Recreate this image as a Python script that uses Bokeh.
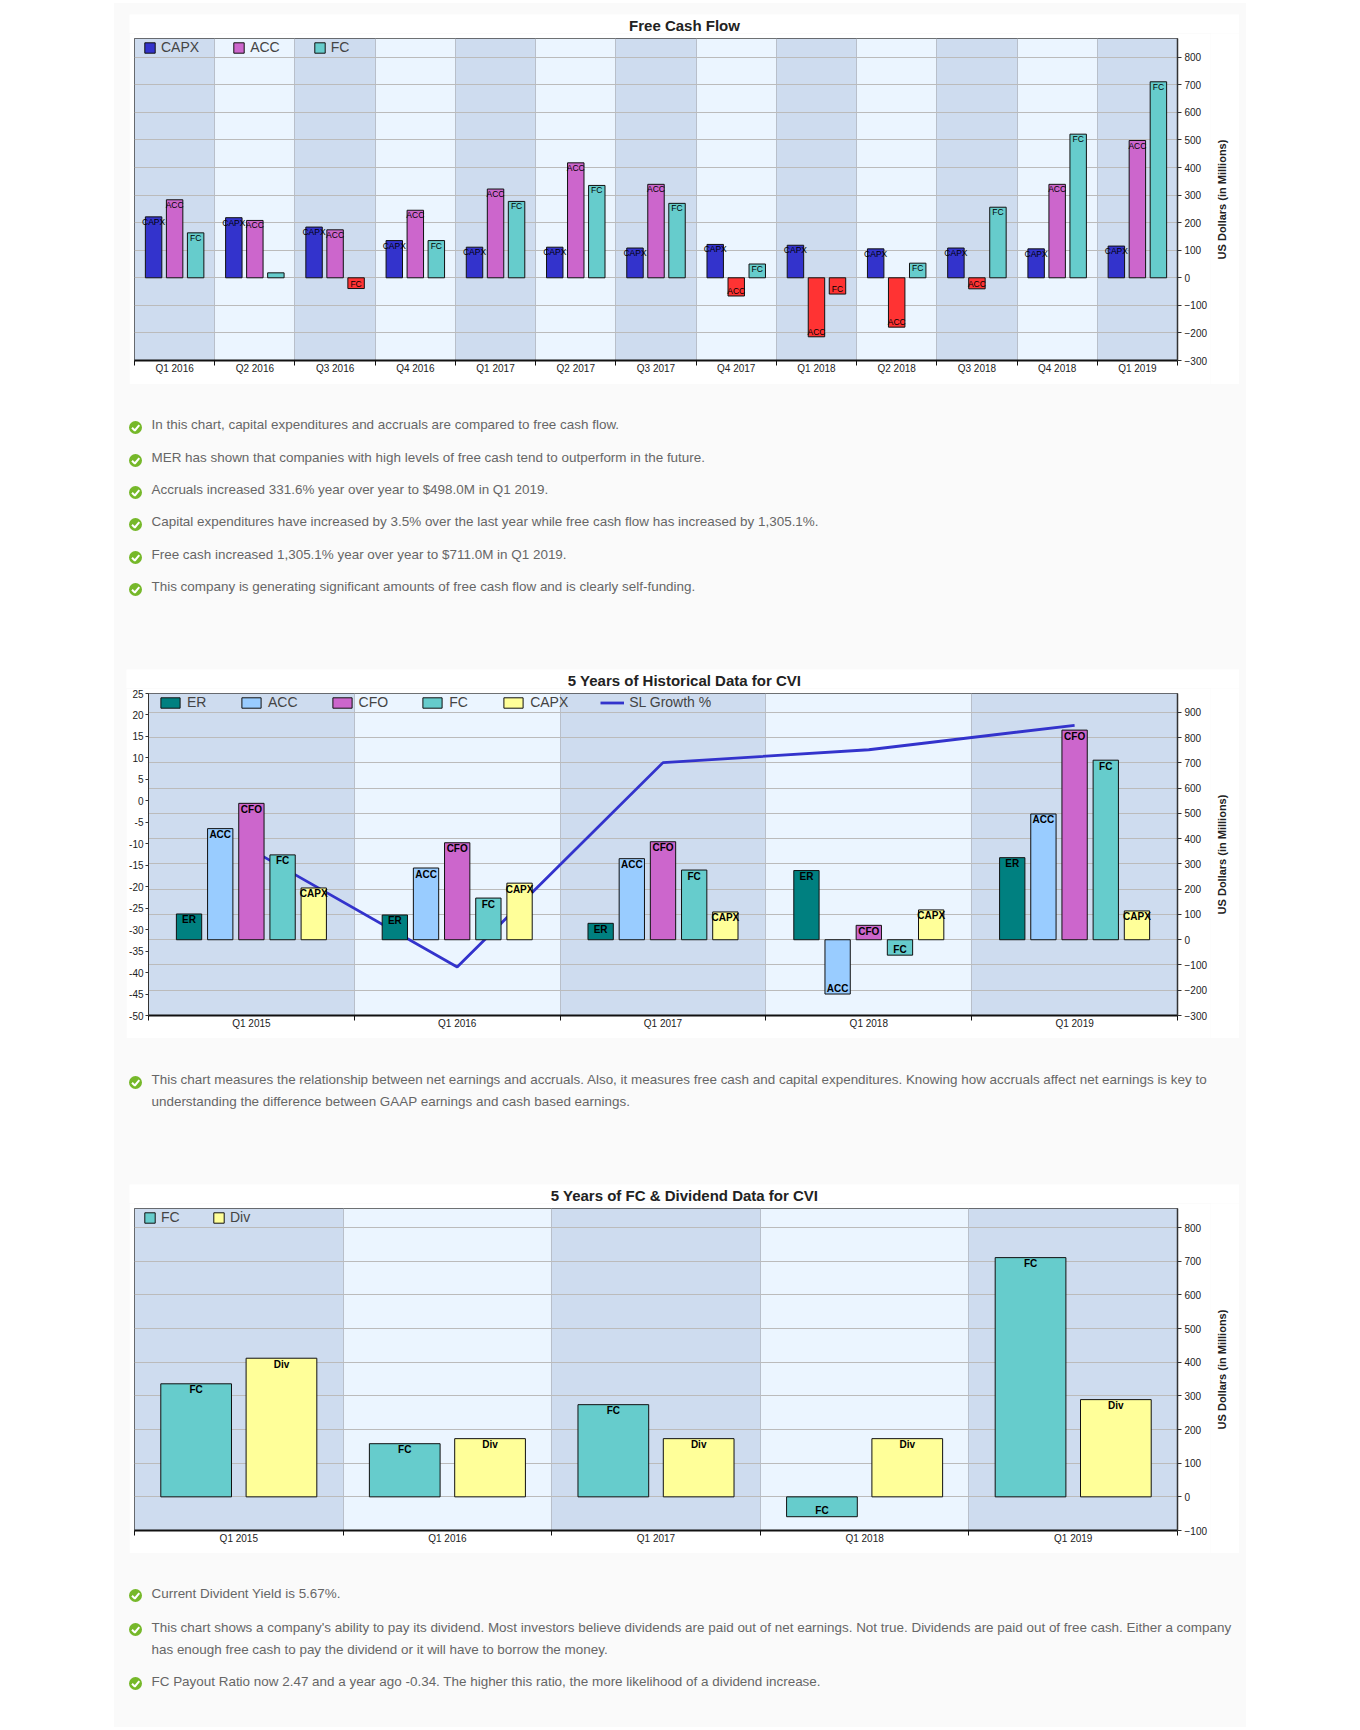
import math
from bokeh.plotting import figure, ColumnDataSource
from bokeh.embed import file_html
from bokeh.resources import INLINE
from bokeh.layouts import column, row
from bokeh.models import (Range1d, LinearAxis, FixedTicker, Legend, LegendItem)
from bokeh.core.properties import value

# ---------- data ----------
Q13 = ["Q1 2016", "Q2 2016", "Q3 2016", "Q4 2016", "Q1 2017", "Q2 2017", "Q3 2017",
       "Q4 2017", "Q1 2018", "Q2 2018", "Q3 2018", "Q4 2018", "Q1 2019"]
FCF_CAPX = [221, 218, 184, 135, 111, 111, 108, 121, 118, 105, 108, 105, 115]
FCF_ACC = [283, 208, 174, 245, 322, 417, 339, -66, -214, -179, -40, 339, 498]
FCF_FC = [163, 18, -39, 135, 277, 335, 270, 50, -59, 53, 256, 521, 711]

Y5 = ["Q1 2015", "Q1 2016", "Q1 2017", "Q1 2018", "Q1 2019"]
H_ER = [102, 98, 65, 274, 325]
H_ACC = [440, 284, 321, -215, 498]
H_CFO = [540, 384, 388, 57, 830]
H_FC = [336, 165, 276, -61, 711]
H_CAPX = [205, 224, 110, 118, 114]
H_SL = [-11.4, -38.7, 8.9, 11.9, 17.6]

D_FC = [336, 158, 274, -59, 711]
D_DIV = [412, 173, 173, 173, 289]

TICKS_1 = list(range(-300, 900, 100))
TICKS_2 = list(range(-300, 1000, 100))
TICKS_2_LEFT = list(range(-50, 30, 5))
TICKS_3 = list(range(-100, 900, 100))

TEXT_1 = [("In this chart, capital expenditures and accruals are compared to free cash flow.", 424, True),
          ("MER has shown that companies with high levels of free cash tend to outperform in the future.", 457, True),
          ("Accruals increased 331.6% year over year to $498.0M in Q1 2019.", 489, True),
          ("Capital expenditures have increased by 3.5% over the last year while free cash flow has increased by 1,305.1%.", 521, True),
          ("Free cash increased 1,305.1% year over year to $711.0M in Q1 2019.", 554, True),
          ("This company is generating significant amounts of free cash flow and is clearly self-funding.", 586, True)]
TEXT_2 = [("This chart measures the relationship between net earnings and accruals. Also, it measures free cash and capital expenditures. Knowing how accruals affect net earnings is key to", 1079, True),
          ("understanding the difference between GAAP earnings and cash based earnings.", 1101, False)]
TEXT_3 = [("Current Divident Yield is 5.67%.", 1593, True),
          ("This chart shows a company's ability to pay its dividend. Most investors believe dividends are paid out of net earnings. Not true. Dividends are paid out of free cash. Either a company", 1627, True),
          ("has enough free cash to pay the dividend or it will have to borrow the money.", 1649, False),
          ("FC Payout Ratio now 2.47 and a year ago -0.34. The higher this ratio, the more likelihood of a dividend increase.", 1681, True)]

# ---------- style ----------
BLUE, PURPLE, TEAL, RED = "#3333CC", "#CC66CC", "#66CCCC", "#FF3333"
DTEAL, SKY, YEL = "#008080", "#99CCFF", "#FFFF99"
BAND_D, BAND_L = "#CEDCEF", "#EBF5FF"
GRID = "#BBBBBB"
PANEL = "#FAFAFA"
FONT = "Liberation Sans"
PANEL_X, PANEL_Y = 114, 3
MIN_LABELLED = 30  # very short bars carry no label in the reference
Y_TITLE = "US Dollars (in Millions)"
STRIP_H = 19        # title strip above each chart
CHART_RIGHT = 1210  # chart canvas ends here, the rotated y title sits in a strip to its right


def strip(x0, x1, y0, y1, fill):
    """A plain canvas whose data coordinates are page pixels."""
    p = figure(width=x1 - x0, height=y1 - y0, output_backend="svg", toolbar_location=None,
               x_range=Range1d(x0, x1), y_range=Range1d(y1, y0), min_border=0,
               background_fill_color=fill, border_fill_color=fill, outline_line_color=None,
               frame_align=False)
    p.axis.visible = False
    p.grid.visible = False
    return p


def chart(cats, ylo, yhi, yticks, fig_box, frame_box):
    fx0, fy0, fx1, fy1 = fig_box
    x0, y0, x1, y1 = frame_box
    n = len(cats)
    p = figure(width=CHART_RIGHT - fx0, height=fy1 - fy0 - STRIP_H, output_backend="svg", toolbar_location=None,
               x_range=Range1d(0, n), y_range=Range1d(ylo, yhi), y_axis_location="right",
               min_border_left=x0 - fx0, min_border_right=CHART_RIGHT - x1,
               min_border_top=y0 - fy0 - STRIP_H, min_border_bottom=fy1 - y1,
               border_fill_color="white", background_fill_color=BAND_L, frame_align=False)
    p.outline_line_color = "#444444"
    p.outline_line_width = 1

    centers = [i + 0.5 for i in range(n)]
    bands = [BAND_D if i % 2 == 0 else BAND_L for i in range(n)]
    r = p.vbar(x=centers, width=1, top=yhi, bottom=ylo, fill_color=bands, line_color=None)
    r.level = "image"

    xa = p.xaxis[0]
    xa.ticker = FixedTicker(ticks=centers, minor_ticks=list(range(n + 1)))
    xa.major_label_overrides = {c: l for c, l in zip(centers, cats)}
    xa.major_tick_line_color = None
    xa.major_tick_in, xa.major_tick_out = 0, 0
    xa.minor_tick_in, xa.minor_tick_out = 0, 5
    xa.minor_tick_line_color = "#111111"
    xa.axis_line_color = "#111111"
    xa.axis_line_width = 2
    xa.major_label_text_font = FONT
    xa.major_label_text_font_size = "10px"
    xa.major_label_text_color = "#222222"
    xa.major_label_standoff = -3

    ya = p.yaxis[0]
    ya.ticker = FixedTicker(ticks=yticks)
    ya.minor_tick_line_color = None
    ya.major_tick_in, ya.major_tick_out = 0, 4
    ya.major_tick_line_color = "#333333"
    ya.axis_line_color = "#333333"
    ya.axis_line_width = 1.5
    ya.major_label_text_font = FONT
    ya.major_label_text_font_size = "10px"
    ya.major_label_text_color = "#222222"
    ya.major_label_standoff = 3

    p.ygrid.grid_line_color = GRID
    p.ygrid.grid_line_width = 1
    p.ygrid.level = "underlay"
    p.xgrid.ticker = FixedTicker(ticks=list(range(1, n)))
    p.xgrid.grid_line_color = "#B8BFCA"
    p.xgrid.grid_line_width = 1
    p.xgrid.level = "underlay"
    return p


def framed(p, title, fig_box, frame_box, title_y, top_margin=0):
    """Title strip above, rotated y title to the right of the chart canvas."""
    fx0, fy0, fx1, fy1 = fig_box
    x0, y0, x1, y1 = frame_box
    t = strip(fx0, fx1, fy0, fy0 + STRIP_H, "white")
    t.text(x=[684], y=[title_y], text=[title], text_align="center", text_baseline="middle",
           text_font=value(FONT), text_font_size="15px", text_font_style="bold", text_color="#222222")
    s = strip(CHART_RIGHT, fx1, fy0 + STRIP_H, fy1, "white")
    s.text(x=[1221], y=[(y0 + y1) / 2], text=[Y_TITLE], angle=[math.pi / 2], text_align="center",
           text_baseline="middle", text_font=value(FONT), text_font_size="11px", text_font_style="bold",
           text_color="#222222")
    return column(t, row(p, s, spacing=0), spacing=0, margin=(top_margin, 0, 0, fx0 - PANEL_X))


def bars(p, vals, names, fill, offset, width, neg=None, size="8.5px", style="normal", off_px=5):
    xs = [i + 0.5 + offset for i in range(len(vals))]
    fills = [neg if (neg and v < 0) else fill for v in vals]
    src = ColumnDataSource(dict(x=xs, top=vals, fill=fills,
                                name=[names if abs(v) >= MIN_LABELLED else "" for v in vals],
                                off=[off_px if v >= 0 else -off_px for v in vals]))
    r = p.vbar(x="x", top="top", bottom=0, width=width, fill_color="fill", line_color="#111111",
               line_width=1, source=src)
    p.text(x="x", y="top", text="name", y_offset="off", source=src, text_align="center",
           text_baseline="middle", text_font=value(FONT), text_font_size=size, text_font_style=style,
           text_color="#000000")
    return r


def add_legend(p, items, glyph_w, mx, my, spacing):
    leg = Legend(items=[LegendItem(label=n, renderers=[r]) for n, r in items],
                 orientation="horizontal", location=(mx, my), margin=0, padding=0,
                 spacing=spacing, label_standoff=5, glyph_width=glyph_w, glyph_height=13,
                 label_text_font=FONT, label_text_font_size="14px", label_text_color="#444444",
                 background_fill_alpha=0, border_line_color=None, label_height=16)
    p.add_layout(leg)


def text_panel(rows, y_top, y_bottom, bullet_dy):
    p = strip(PANEL_X, PANEL_X + 1132, y_top, y_bottom, PANEL)
    p.text(x=[151] * len(rows), y=[r[1] for r in rows], text=[r[0] for r in rows], text_baseline="middle",
           text_font=value(FONT), text_font_size="13.45px", text_color="#666666")
    ys = [r[1] + bullet_dy for r in rows if r[2]]
    p.scatter(x=[135] * len(ys), y=ys, size=13, marker="circle", fill_color="#76B82A", line_color=None)
    p.multi_line(xs=[[131.5, 134.3, 138.8]] * len(ys), ys=[[y + 0.2, y + 3, y - 2.4] for y in ys],
                 line_color="white", line_width=2)
    return p


# ---------- chart 1 ----------
box1, frame1 = (129, 14, 1239, 384), (134, 38, 1178, 360)
p1 = chart(Q13, -300, 868, TICKS_1, box1, frame1)
w1, s1 = 0.205, 0.262
r_capx = bars(p1, FCF_CAPX, "CAPX", BLUE, -s1, w1, RED)
r_acc = bars(p1, FCF_ACC, "ACC", PURPLE, 0, w1, RED)
r_fc = bars(p1, FCF_FC, "FC", TEAL, s1, w1, RED)
add_legend(p1, [("CAPX", r_capx), ("ACC", r_acc), ("FC", r_fc)], 13, 9, 305, 33)

# ---------- chart 2 ----------
box2, frame2 = (126, 669, 1239, 1038), (148, 693, 1178, 1015)
p2 = chart(Y5, -300, 975, TICKS_2, box2, frame2)
p2.extra_y_ranges = {"pct": Range1d(-50, 25)}
left = LinearAxis(y_range_name="pct", ticker=FixedTicker(ticks=TICKS_2_LEFT))
left.major_label_overrides = {t: str(t) for t in TICKS_2_LEFT}
left.minor_tick_line_color = None
left.major_tick_in, left.major_tick_out = 0, 3
left.major_tick_line_color = "#333333"
left.axis_line_color = "#333333"
left.major_label_text_font = FONT
left.major_label_text_font_size = "10px"
left.major_label_text_color = "#222222"
left.major_label_standoff = 2
p2.add_layout(left, "left")
r_sl = p2.line(x=[i + 0.5 for i in range(5)], y=H_SL, y_range_name="pct", line_color=BLUE, line_width=2.8)
w2, s2 = 0.123, 0.1515
r2 = [bars(p2, v, n, c, o * s2, w2, None, "10px", "bold", 6)
      for v, n, c, o in [(H_ER, "ER", DTEAL, -2), (H_ACC, "ACC", SKY, -1), (H_CFO, "CFO", PURPLE, 0),
                         (H_FC, "FC", TEAL, 1), (H_CAPX, "CAPX", YEL, 2)]]
add_legend(p2, [("ER", r2[0]), ("ACC", r2[1]), ("CFO", r2[2]), ("FC", r2[3]), ("CAPX", r2[4]), ("SL Growth %", r_sl)], 24, 10, 305, 32)

# ---------- chart 3 ----------
box3, frame3 = (129, 1184, 1239, 1553), (134, 1208, 1178, 1530)
p3 = chart(Y5, -100, 857, TICKS_3, box3, frame3)
w3, s3 = 0.339, 0.2045
r3a = bars(p3, D_FC, "FC", TEAL, -s3, w3, None, "10px", "bold", 6)
r3b = bars(p3, D_DIV, "Div", YEL, s3, w3, None, "10px", "bold", 6)
add_legend(p3, [("FC", r3a), ("Div", r3b)], 13, 9, 305, 31)

# ---------- page ----------
c1 = framed(p1, "Free Cash Flow", box1, frame1, 24.5, top_margin=11)
c2 = framed(p2, "5 Years of Historical Data for CVI", box2, frame2, 679.5)
c3 = framed(p3, "5 Years of FC & Dividend Data for CVI", box3, frame3, 1194.5)
t1 = text_panel(TEXT_1, 384, 669, 3)
t2 = text_panel(TEXT_2, 1038, 1184, 3)
t3 = text_panel(TEXT_3, 1553, 1727, 2)

root = column(c1, t1, c2, t2, c3, t3, spacing=0, width=1132, height=1724, margin=(3, 0, 0, 114),
              styles={"background-color": PANEL})
open("out.html", "w").write(file_html(root, INLINE))
